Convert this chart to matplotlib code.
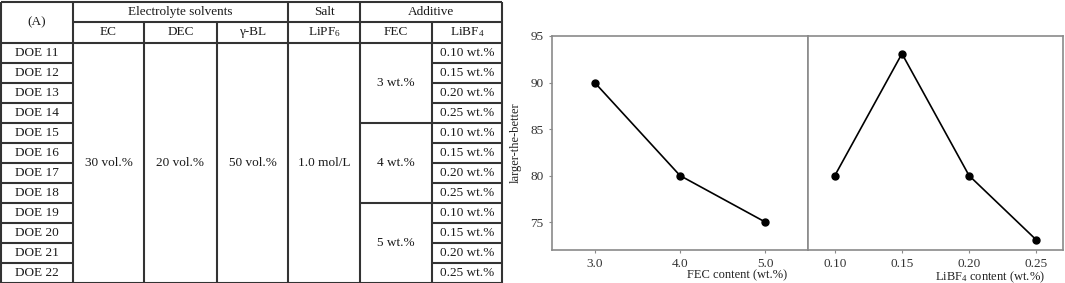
import numpy as np
import matplotlib.pyplot as plt

plt.rcParams['font.family'] = ['Liberation Serif', 'DejaVu Serif']
plt.rcParams['mathtext.default'] = 'regular'

# ---- table content
group_headers = ['Electrolyte solvents', 'Salt', 'Additive']
col_headers = ['EC', 'DEC', 'γ-BL', 'LiPF$_6$', 'FEC', 'LiBF$_4$']
doe_labels = ['DOE 11', 'DOE 12', 'DOE 13', 'DOE 14', 'DOE 15', 'DOE 16',
              'DOE 17', 'DOE 18', 'DOE 19', 'DOE 20', 'DOE 21', 'DOE 22']
fixed_values = ['30 vol.%', '20 vol.%', '50 vol.%', '1.0 mol/L']
fec_levels = ['3 wt.%', '4 wt.%', '5 wt.%']
libf4_levels = ['0.10 wt.%', '0.15 wt.%', '0.20 wt.%', '0.25 wt.%']

# ---- main effect plots
fec_x = [3.0, 4.0, 5.0]
fec_y = [90.0, 80.0, 75.0]
libf4_x = [0.10, 0.15, 0.20, 0.25]
libf4_y = [80.0, 93.1, 80.0, 73.1]

fig = plt.figure(figsize=(10.65, 2.83), dpi=100)

# ---------------- table (drawn in pixel-like coords)
tab = fig.add_axes([0, 0, 504 / 1065, 1])
tab.set_xlim(0, 504)
tab.set_ylim(283, 0)
tab.axis('off')

lc = '#333333'
lw = 1.5
tc = '#1a1a1a'
fs = 9.5

cx = [1, 73, 144, 217, 288, 360, 432, 502]   # column edges
top = 1.5
hh = 20.5
rh = 20.0
y_h1 = top + hh
y_h2 = top + 2 * hh
nrows = len(doe_labels)
bot = y_h2 + nrows * rh


def hline(y, x0, x1):
    tab.plot([x0, x1], [y, y], color=lc, lw=lw, solid_capstyle='butt', clip_on=False)


def vline(x, y0, y1):
    tab.plot([x, x], [y0, y1], color=lc, lw=lw, solid_capstyle='butt', clip_on=False)


# outer frame
hline(top, cx[0], cx[-1])
hline(bot, cx[0], cx[-1])
vline(cx[0], top, bot)
vline(cx[-1], top, bot)
# header lines
hline(y_h1, cx[1], cx[-1])
hline(y_h2, cx[0], cx[-1])
for x in [cx[1], cx[4], cx[5]]:
    vline(x, top, bot)
for x in [cx[2], cx[3], cx[6]]:
    vline(x, y_h1, bot)
# row lines
for i in range(1, nrows):
    y = y_h2 + i * rh
    hline(y, cx[0], cx[1])
    hline(y, cx[6], cx[7])
    if i % 4 == 0:
        hline(y, cx[5], cx[6])

# header text
tab.text((cx[0] + cx[1]) / 2, (top + y_h2) / 2, '(A)', ha='center', va='center', fontsize=fs, color=tc)
spans = [(1, 4), (4, 5), (5, 7)]
for (a, b), txt in zip(spans, group_headers):
    tab.text((cx[a] + cx[b]) / 2, (top + y_h1) / 2, txt, ha='center', va='center', fontsize=fs, color=tc)
for j, txt in enumerate(col_headers):
    tab.text((cx[j + 1] + cx[j + 2]) / 2, (y_h1 + y_h2) / 2, txt, ha='center', va='center',
             fontsize=fs, color=tc)

# body
for i, txt in enumerate(doe_labels):
    yc = y_h2 + (i + 0.5) * rh
    tab.text((cx[0] + cx[1]) / 2, yc, txt, ha='center', va='center', fontsize=fs, color=tc)
    tab.text((cx[6] + cx[7]) / 2, yc, libf4_levels[i % 4], ha='center', va='center', fontsize=fs, color=tc)
for j, txt in enumerate(fixed_values):
    tab.text((cx[j + 1] + cx[j + 2]) / 2, (y_h2 + bot) / 2, txt, ha='center', va='center',
             fontsize=fs, color=tc)
for k, txt in enumerate(fec_levels):
    yc = y_h2 + (4 * k + 2) * rh
    tab.text((cx[5] + cx[6]) / 2, yc, txt, ha='center', va='center', fontsize=fs, color=tc)

# ---------------- main effects plots
ax1 = fig.add_axes([552 / 1065, 33 / 283, 256 / 1065, 214 / 283])
ax2 = fig.add_axes([808 / 1065, 33 / 283, 255 / 1065, 214 / 283], sharey=ax1)

fc = '#8a8a8a'
for ax in (ax1, ax2):
    for s in ax.spines.values():
        s.set_color(fc)
        s.set_linewidth(1.2)
    ax.tick_params(colors=fc, labelcolor='#333333', labelsize=9.5, length=2.5, width=0.8)

ax1.plot(fec_x, fec_y, color='black', lw=1.2, marker='o', markersize=5)
ax1.set_xlim(2.5, 5.5)
ax1.set_xticks(fec_x)
ax1.set_xticklabels(['%.1f' % v for v in fec_x])
ax1.set_ylim(72, 95)
ax1.set_yticks([75, 80, 85, 90, 95])
ax1.set_ylabel('larger-the-better', fontsize=9, color='#222222', labelpad=6)
ax1.set_xlabel('FEC content (wt.%)', fontsize=9, color='#222222')
ax1.xaxis.set_label_coords(0.92, -0.09)
ax1.xaxis.label.set_ha('right')

ax2.plot(libf4_x, libf4_y, color='black', lw=1.2, marker='o', markersize=5)
ax2.set_xlim(0.08, 0.27)
ax2.set_xticks(libf4_x)
ax2.set_xticklabels(['%.2f' % v for v in libf4_x])
ax2.tick_params(axis='y', left=False, labelleft=False)
ax2.set_xlabel('LiBF$_4$ content (wt.%)', fontsize=9, color='#222222')
ax2.xaxis.set_label_coords(0.93, -0.09)
ax2.xaxis.label.set_ha('right')

fig.savefig('out.png', dpi=100)
